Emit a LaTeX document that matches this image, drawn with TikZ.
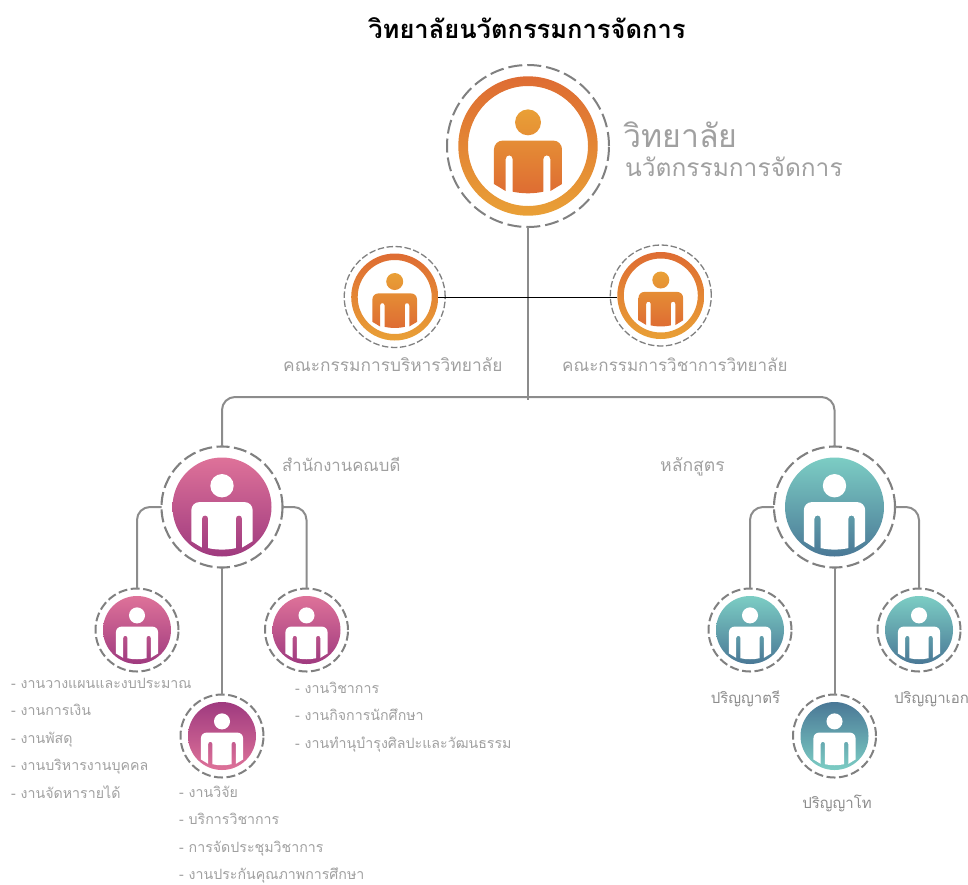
\documentclass[tikz,border=0pt]{standalone}
\usepackage{fontspec}
\newfontfamily\thaifont[Script=Thai]{Loma}
\definecolor{txtgray}{HTML}{A0A0A0}
\definecolor{linegray}{HTML}{8C8C8C}
\definecolor{dashgray}{HTML}{808080}
\tikzset{
  ringshade/.style={top color=F1,bottom color=F2},
  figshade/.style={top color=F2,bottom color=F1},
  pinkdown/.style={top color=P1,bottom color=P2},
  pinkup/.style={top color=P2,bottom color=P1},
  tealdown/.style={top color=T1,bottom color=T2},
  tealup/.style={top color=T2,bottom color=T1},
  ringbase/.style={circle,inner sep=0pt,outer sep=0pt,draw=dashgray},
  ringhuge/.style={ringbase,line width=2pt,dash pattern=on 14pt off 5pt,minimum size=162pt},
  ringmid/.style={ringbase,line width=1.3pt,dash pattern=on 6.5pt off 2.5pt,minimum size=101pt},
  ringbig/.style={ringbase,line width=2.1pt,dash pattern=on 13pt off 4.5pt,minimum size=121pt},
  ringsmall/.style={ringbase,line width=2pt,dash pattern=on 9pt off 3.5pt,minimum size=83pt},
  conn/.style={draw=linegray,line width=2pt,rounded corners=13pt},
  blackline/.style={draw=black,line width=1pt},
  hollow/.style={circle,inner sep=0pt,outer sep=0pt},
  lab/.style={anchor=base west,inner sep=0pt,text=txtgray,font=\thaifont\fontsize{17}{19}\selectfont},
  lst/.style={anchor=base west,inner sep=0pt,text=txtgray,font=\thaifont\fontsize{14.2}{16}\selectfont},
  ctr/.style={anchor=base,inner sep=0pt,text=linegray,font=\thaifont\fontsize{15}{17}\selectfont},
}
\definecolor{F1}{HTML}{DE6C33}
\definecolor{F2}{HTML}{E9A036}
\definecolor{P1}{HTML}{DE7299}
\definecolor{P2}{HTML}{9F3A7F}
\definecolor{T1}{HTML}{7CCDC4}
\definecolor{T2}{HTML}{4A7896}
% #1 centre, #2 unit size, #3 drawing options
\newcommand{\personicon}[3]{%
  \begin{scope}[shift={(#1)},scale=#2]
    \path[#3] (0,-.43) circle[radius=.236]
      (-.62,.69) -- (-.62,.07) .. controls (-.62,-.03) and (-.55,-.10) .. (-.45,-.10)
      -- (.45,-.10) .. controls (.55,-.10) and (.62,-.03) .. (.62,.07)
      -- (.62,.69) -- (.405,.82) -- (.405,.235) .. controls (.405,.15) and (.28,.15) .. (.28,.235)
      -- (.28,.83) .. controls (.1,.87) and (-.1,.87) .. (-.28,.83)
      -- (-.28,.235) .. controls (-.28,.15) and (-.405,.15) .. (-.405,.235)
      -- (-.405,.82) -- cycle;
  \end{scope}}
\begin{document}
\begin{tikzpicture}[x=1pt,y=-1pt]
\useasboundingbox (0,0) rectangle (968,884);
% dashed rings, named
\node[ringhuge] (root) at (528,146) {};
\node[ringmid] (board) at (394.7,297) {};
\node[ringmid] (acad) at (660.8,295.5) {};
\node[hollow,minimum size=87pt] (boardin) at (board.center) {};
\node[hollow,minimum size=87pt] (acadin) at (acad.center) {};
\node[ringbig] (dean) at (222,507) {};
\node[ringbig] (prog) at (834.5,507) {};
\node[ringsmall] (d1) at (137,630) {};
\node[ringsmall] (d2) at (222,736) {};
\node[ringsmall] (d3) at (306.5,630) {};
\node[ringsmall] (p1) at (750,630) {};
\node[ringsmall] (p2) at (834.5,736) {};
\node[ringsmall] (p3) at (919,630) {};
\coordinate (bus) at (528,397);
\coordinate (busend) at (528,400);
% connectors
\draw[conn] (root.south) -- (root.south |- busend);
\draw[conn] (dean.north) |- (bus) -| (prog.north);
\draw[blackline] (boardin.east) -- (boardin.east -| acadin.west);
\draw[conn] (dean.west) -| (d1.north);
\draw[conn] (dean.east) -| (d3.north);
\draw[conn] (dean.south) -- (d2.north);
\draw[conn] (prog.west) -| (p1.north);
\draw[conn] (prog.east) -| (p3.north);
\draw[conn] (prog.south) -- (p2.north);
% orange rings and figures
\shade[ringshade,even odd rule] (root.center) circle (69.7) (root.center) circle (60);
\personicon{root.center}{55}{shade,figshade}
\shade[ringshade,even odd rule] (board.center) circle (43.5) (board.center) circle (37);
\personicon{board.center}{36}{shade,figshade}
\shade[ringshade,even odd rule] (acad.center) circle (43.5) (acad.center) circle (37);
\personicon{acad.center}{36}{shade,figshade}
% pink discs
\shade[pinkdown] (dean.center) circle (49.5);
\personicon{dean.center}{49.5}{fill=white}
\shade[pinkdown] (d1.center) circle (34);
\personicon{d1.center}{34}{fill=white}
\shade[pinkup] (d2.center) circle (34);
\personicon{d2.center}{34}{fill=white}
\shade[pinkdown] (d3.center) circle (34);
\personicon{d3.center}{34}{fill=white}
% teal discs
\shade[tealdown] (prog.center) circle (49.5);
\personicon{prog.center}{49.5}{fill=white}
\shade[tealdown] (p1.center) circle (34);
\personicon{p1.center}{34}{fill=white}
\shade[tealup] (p2.center) circle (34);
\personicon{p2.center}{34}{fill=white}
\shade[tealdown] (p3.center) circle (34);
\personicon{p3.center}{34}{fill=white}
% texts
\node[anchor=base,inner sep=0pt,font=\thaifont\bfseries\fontsize{25.5}{28}\selectfont] (title) at (527,38) {วิทยาลัยนวัตกรรมการจัดการ};
\node[lab,font=\thaifont\fontsize{32}{36}\selectfont] (t1) at (623,147) {วิทยาลัย};
\node[lab,font=\thaifont\fontsize{24.5}{28}\selectfont] (t2) at (625,176) {นวัตกรรมการจัดการ};
\node[lab,font=\thaifont\fontsize{17.3}{19}\selectfont] (t3) at (283,371) {คณะกรรมการบริหารวิทยาลัย};
\node[lab] (t4) at (562,371) {คณะกรรมการวิชาการวิทยาลัย};
\node[lab,font=\thaifont\fontsize{16.7}{19}\selectfont] (t5) at (282,471) {สำนักงานคณบดี};
\node[lab,font=\thaifont\fontsize{17.6}{19}\selectfont] (t6) at (660,471) {หลักสูตร};
\node[lst] (a1) at (11,688) {- งานวางแผนและงบประมาณ};
\node[lst] (a2) at (11,715.5) {- งานการเงิน};
\node[lst] (a3) at (11,743) {- งานพัสดุ};
\node[lst] (a4) at (11,770.5) {- งานบริหารงานบุคคล};
\node[lst] (a5) at (11,798) {- งานจัดหารายได้};
\node[lst] (b1) at (179,797) {- งานวิจัย};
\node[lst] (b2) at (179,824.5) {- บริการวิชาการ};
\node[lst] (b3) at (179,852) {- การจัดประชุมวิชาการ};
\node[lst] (b4) at (179,879.5) {- งานประกันคุณภาพการศึกษา};
\node[lst] (c1) at (295,693) {- งานวิชาการ};
\node[lst] (c2) at (295,720.5) {- งานกิจการนักศึกษา};
\node[lst] (c3) at (295,748) {- งานทำนุบำรุงศิลปะและวัฒนธรรม};
\node[ctr] (e1) at (745.5,703) {ปริญญาตรี};
\node[ctr] (e2) at (837,808) {ปริญญาโท};
\node[ctr] (e3) at (931.5,703) {ปริญญาเอก};
\end{tikzpicture}
\end{document}
